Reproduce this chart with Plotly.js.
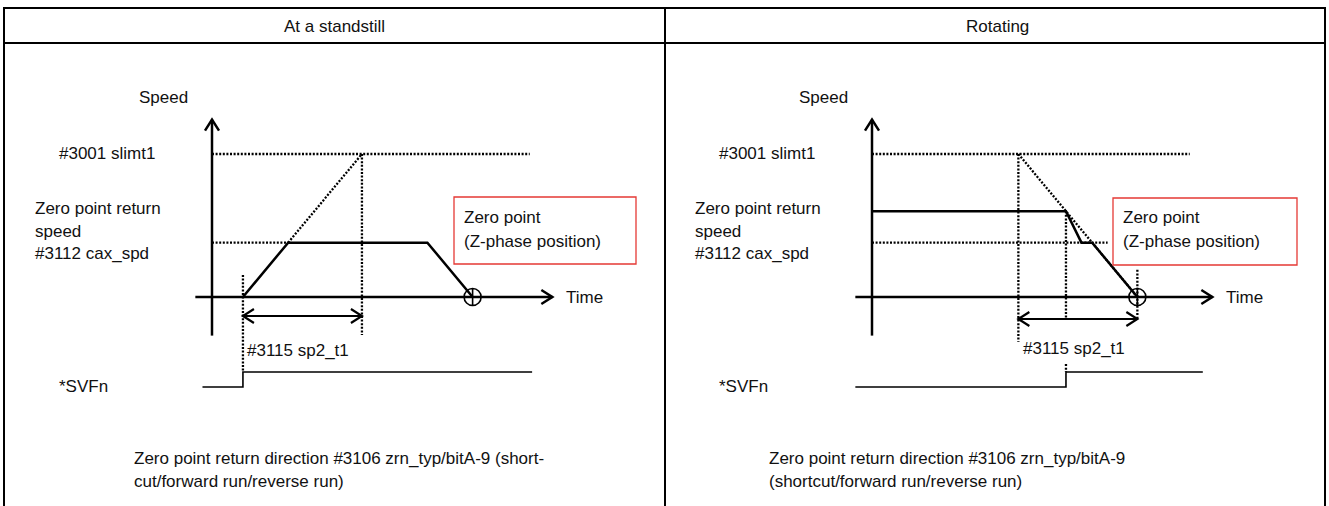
<!DOCTYPE html>
<html>
<head>
<meta charset="utf-8">
<script src="https://cdn.plot.ly/plotly-3.0.1.min.js"></script>
<style>
  html, body { margin: 0; padding: 0; background: #fff; }
  #chart { width: 1329px; height: 506px; }
</style>
</head>
<body>
<div id="chart"></div>
<script>
// speed is a fraction of #3001 slimt1, time is in tenths of #3115 sp2_t1
const panelTitles = ['At a standstill', 'Rotating'];
const slimt1 = 1.0;
const caxSpd = 0.38;

// at a standstill
const standSpeedT = [2.6, 6.4, 18.1, 21.9];
const standSpeedV = [0, 0.38, 0.38, 0];
const standAccelT = [6.4, 12.6];
const standAccelV = [0.38, 1.0];
const standSvfT = [-0.8, 2.6, 2.6, 26.9];
const standSvfV = [0, 0, 1, 1];

// rotating
const rotSpeedT = [0, 16.3, 17.6, 18.5, 22.3];
const rotSpeedV = [0.6, 0.6, 0.38, 0.38, 0];
const rotDecelT = [12.3, 22.3];
const rotDecelV = [1.0, 0];
const rotSvfT = [-1.4, 16.3, 16.3, 27.8];
const rotSvfV = [0, 0, 1, 1];

// page geometry (px)
const W = 1329, H = 506;
const T_PX = 11.9, V_PX = 143;     // px per time unit / speed unit
const ORIGIN_X = [212, 872], ORIGIN_Y = 297;
const SVF_BASE = -0.629, SVF_AMP = 0.105;
const FONT = { family: 'Liberation Sans, Arial, sans-serif', size: 17, color: '#111' };

const px = x => x / W;
const py = y => 1 - y / H;

const solid = { color: '#000', width: 2.5 };
const dotted = { color: '#000', width: 2.3, dash: '2px,1.6px' };

function seg(xa, ya, x, y, line) {
  return { x: x, y: y, xaxis: xa, yaxis: ya, mode: 'lines', line: line, hoverinfo: 'skip', showlegend: false };
}

// open arrow head at (t, v) pointing along (dt, dv) in px space
function chevron(t, v, dt, dv) {
  const len = 11, half = 7;
  const n = Math.hypot(dt, dv); dt /= n; dv /= n;
  const bx = -dt * len, by = -dv * len;
  const a = [bx - dv * half, by + dt * half], b = [bx + dv * half, by - dt * half];
  return {
    x: [t + a[0] / T_PX, t, t + b[0] / T_PX],
    y: [v + a[1] / V_PX, v, v + b[1] / V_PX]
  };
}

function panel(i, speedT, speedV, slopeT, slopeV, svfT, svfV, caxEnd, marks, span, spanV) {
  const xa = i === 0 ? 'x' : 'x2', ya = i === 0 ? 'y' : 'y2';
  const out = [];
  // axes
  out.push(seg(xa, ya, [0, 0], [-0.27, 1.24], solid));
  let c = chevron(0, 1.24, 0, 1); out.push(seg(xa, ya, c.x, c.y, solid));
  out.push(seg(xa, ya, [-1.4, 28.6], [0, 0], solid));
  c = chevron(28.6, 0, 1, 0); out.push(seg(xa, ya, c.x, c.y, solid));
  // guide levels
  out.push(seg(xa, ya, [0, 26.7], [slimt1, slimt1], dotted));
  out.push(seg(xa, ya, [0, caxEnd], [caxSpd, caxSpd], dotted));
  marks.forEach(m => out.push(seg(xa, ya, [m[0], m[0]], [m[1], m[2]], dotted)));
  // slope and speed profile
  out.push(seg(xa, ya, slopeT, slopeV, dotted));
  out.push(seg(xa, ya, speedT, speedV, solid));
  // sp2_t1 span
  out.push(seg(xa, ya, span, [spanV, spanV], { color: '#000', width: 2.2 }));
  c = chevron(span[0], spanV, -1, 0); out.push(seg(xa, ya, c.x, c.y, { color: '#000', width: 2.2 }));
  c = chevron(span[1], spanV, 1, 0); out.push(seg(xa, ya, c.x, c.y, { color: '#000', width: 2.2 }));
  // zero point marker
  out.push({ x: [speedT[speedT.length - 1]], y: [0], xaxis: xa, yaxis: ya, mode: 'markers',
    marker: { symbol: 'circle-cross-open', size: 17, color: '#000', line: { width: 1.6, color: '#000' } },
    hoverinfo: 'skip', showlegend: false });
  // *SVFn signal
  out.push(seg(xa, ya, svfT, svfV.map(s => SVF_BASE + s * SVF_AMP), { color: '#000', width: 1.6 }));
  return out;
}

const svfHigh = SVF_BASE + SVF_AMP;
const traces = [].concat(
  panel(0, standSpeedT, standSpeedV, standAccelT, standAccelV, standSvfT, standSvfV, standSpeedT[1],
    [[standSpeedT[0], 0.154, svfHigh], [standAccelT[1], slimt1, -0.266]],
    [standSpeedT[0], standAccelT[1]], -0.133),
  panel(1, rotSpeedT, rotSpeedV, rotDecelT, rotDecelV, rotSvfT, rotSvfV, 19.8,
    [[rotDecelT[0], slimt1, -0.315], [rotSpeedT[1], rotSpeedV[1], -0.16],
     [rotDecelT[1], 0.19, -0.16], [rotSvfT[1], svfHigh + 0.055, svfHigh]],
    [rotDecelT[0], rotDecelT[1]], -0.154)
);

function hiddenAxis(extra) {
  return Object.assign({ visible: false, showgrid: false, zeroline: false, fixedrange: true }, extra);
}

const frame = { color: '#000', width: 2 };
const red = { color: '#e53935', width: 1.3 };
const shapes = [
  { type: 'rect', xref: 'paper', yref: 'paper', x0: px(4), x1: px(1325), y0: py(8), y1: -0.05, line: frame },
  { type: 'line', xref: 'paper', yref: 'paper', x0: px(4), x1: px(1325), y0: py(43), y1: py(43), line: frame },
  { type: 'line', xref: 'paper', yref: 'paper', x0: px(665), x1: px(665), y0: py(8), y1: -0.05, line: frame },
  { type: 'rect', xref: 'paper', yref: 'paper', x0: px(454), x1: px(636), y0: py(197), y1: py(264), line: red },
  { type: 'rect', xref: 'paper', yref: 'paper', x0: px(1113), x1: px(1297), y0: py(198), y1: py(265), line: red }
];

function label(text, x, y, anchor) {
  return { text: text, x: px(x), y: py(y), xref: 'paper', yref: 'paper', showarrow: false,
    xanchor: anchor || 'left', yanchor: 'middle', font: FONT };
}

const annotations = [
  label(panelTitles[0], 334, 26, 'center'),
  label(panelTitles[1], 997, 26, 'center')
];
[0, 660].forEach(dx => {
  annotations.push(
    label('Speed', 163 + dx, 97, 'center'),
    label('#3001 slimt1', 57 + dx, 153),
    label('Zero point return', 33 + dx, 208),
    label('speed', 33 + dx, 231),
    label('#3112 cax_spd', 33 + dx, 253),
    label('Time', 564 + dx, 297),
    label('*SVFn', 57 + dx, 386)
  );
});
annotations.push(
  label('#3115 sp2_t1', 245, 350),
  label('#3115 sp2_t1', 1021, 348),
  label('Zero point', 462, 218),
  label('(Z-phase position)', 462, 241),
  label('Zero point', 1121, 218),
  label('(Z-phase position)', 1121, 241),
  label('Zero point return direction #3106 zrn_typ/bitA-9 (short-', 132, 458),
  label('cut/forward run/reverse run)', 132, 481),
  label('Zero point return direction #3106 zrn_typ/bitA-9', 767, 458),
  label('(shortcut/forward run/reverse run)', 767, 481)
);

const layout = {
  width: W, height: H,
  margin: { l: 0, r: 0, t: 0, b: 0 },
  paper_bgcolor: '#fff', plot_bgcolor: 'rgba(0,0,0,0)',
  showlegend: false,
  xaxis: hiddenAxis({ domain: [0, px(665)], range: [-ORIGIN_X[0] / T_PX, (665 - ORIGIN_X[0]) / T_PX] }),
  xaxis2: hiddenAxis({ domain: [px(665), 1], range: [(665 - ORIGIN_X[1]) / T_PX, (W - ORIGIN_X[1]) / T_PX] }),
  yaxis: hiddenAxis({ domain: [0, 1], range: [(ORIGIN_Y - H) / V_PX, ORIGIN_Y / V_PX], anchor: 'x' }),
  yaxis2: hiddenAxis({ domain: [0, 1], range: [(ORIGIN_Y - H) / V_PX, ORIGIN_Y / V_PX], anchor: 'x2' }),
  shapes: shapes,
  annotations: annotations
};

Plotly.newPlot('chart', traces, layout, { staticPlot: true, displayModeBar: false });
</script>
</body>
</html>
